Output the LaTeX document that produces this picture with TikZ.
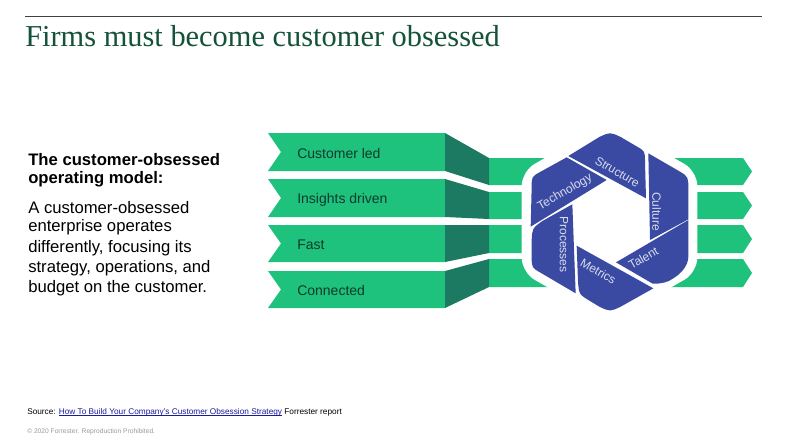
\documentclass[tikz,border=0pt]{standalone}
\usepackage{fontspec}
\setmainfont{Liberation Sans}
\newfontfamily\serifface{Liberation Serif}
\definecolor{grn}{HTML}{1FC27C}
\definecolor{dgrn}{HTML}{1D7A62}
\definecolor{blu}{HTML}{3A4AA3}
\definecolor{ttl}{HTML}{14523A}
\definecolor{linkb}{HTML}{1A1A9C}
\definecolor{lbl}{HTML}{0F3A2C}
\definecolor{bladetxt}{HTML}{D8DCF0}
\newsavebox{\linkbox}
\newcommand{\linkul}[1]{\sbox{\linkbox}{#1}\rlap{\usebox{\linkbox}}\rule[-0.8pt]{\wd\linkbox}{0.35pt}}
\tikzset{
  banner/.style={fill=grn,draw=none},
  fold/.style={fill=dgrn,draw=none},
  blade/.style={fill=blu,draw=none},
  bannertxt/.style={anchor=west,inner sep=0pt,text=lbl,font=\fontsize{10.5}{13}\selectfont},
  bladetext/.style={inner sep=0pt,text=bladetxt,font=\fontsize{9}{11}\selectfont},
  body/.style={anchor=west,inner sep=0pt,font=\fontsize{12.5}{15}\selectfont},
  bodyb/.style={anchor=west,inner sep=0pt,font=\fontsize{12.5}{15}\selectfont\bfseries},
}
\begin{document}
\begin{tikzpicture}[x=0.75pt,y=-0.75pt]
\useasboundingbox (0,0) rectangle (787,440);
\fill[white] (0,0) rectangle (787,440);
% title
\draw[line width=0.7pt,black!75] (25,16.5) -- (762,16.5);
\node[anchor=west,inner sep=0pt,text=ttl,font=\serifface\fontsize{22.8}{26}\selectfont] (title) at (25,36) {Firms must become customer obsessed};
% left text
\node[bodyb] (h1) at (28,159.5) {The customer-obsessed};
\node[bodyb] (h2) at (28,179.5) {operating model:};
\node[body] (b1) at (28,207.5) {A customer-obsessed};
\node[body] (b2) at (28,227.5) {enterprise operates};
\node[body] (b3) at (28,248) {differently, focusing its};
\node[body] (b4) at (28,268.5) {strategy, operations, and};
\node[body] (b5) at (28,288.5) {budget on the customer.};
% right bars
\fill[banner] (489,158) -- (743,158) -- (752,171.5) -- (743,185) -- (489,185) -- cycle;
\fill[banner] (489,192) -- (743,192) -- (752,205.5) -- (743,219) -- (489,219) -- cycle;
\fill[banner] (489,225) -- (743,225) -- (752,239) -- (743,253) -- (489,253) -- cycle;
\fill[banner] (489,259) -- (743,259) -- (752,273) -- (743,287) -- (489,287) -- cycle;
% left banners
\fill[banner] (268,133) -- (445,133) -- (445,171) -- (268,171) -- (281,152) -- cycle;
\fill[banner] (268,179) -- (445,179) -- (445,217) -- (268,217) -- (281,198) -- cycle;
\fill[banner] (268,225) -- (445,225) -- (445,262) -- (268,262) -- (281,243.5) -- cycle;
\fill[banner] (268,271) -- (445,271) -- (445,308) -- (268,308) -- (281,289.5) -- cycle;
% folds
\fill[fold] (445,133) -- (489,158) -- (489,185) -- (445,171) -- cycle;
\fill[fold] (445,179) -- (489,192) -- (489,219) -- (445,217) -- cycle;
\fill[fold] (445,225) -- (489,225) -- (489,253) -- (445,262) -- cycle;
\fill[fold] (445,271) -- (489,259) -- (489,287) -- (445,308) -- cycle;
\node[bannertxt] (t1) at (297,153) {Customer led};
\node[bannertxt] (t2) at (297,199.5) {Insights driven};
\node[bannertxt] (t3) at (297,245) {Fast};
\node[bannertxt] (t4) at (297,290) {Connected};
% hexagon
\begin{scope}[shift={(510,125)},x=0.25pt,y=-0.25pt]
\fill[white,rounded corners=11pt] (298,-12) -- (562,139) -- (562,442) -- (298,593) -- (35,442) -- (35,139) -- cycle;
\fill[blade] (175,93) -- (268,36) .. controls (300,21) .. (332,36) -- (378,63) .. controls (405,78) .. (405,112) -- (408,220) -- cycle;
\fill[blade] (415,85) -- (505,137) .. controls (535,155) .. (535,190) -- (535,283) -- (420,345) -- cycle;
\fill[blade] (318,412) -- (535,285) -- (535,395) .. controls (535,420) and (515,445) .. (490,460) .. controls (475,472) and (450,477) .. (428,476) -- cycle;
\fill[blade] (200,362) -- (430,490) -- (332,545) .. controls (300,560) .. (268,545) -- (240,528) .. controls (207,508) .. (204,470) -- cycle;
\fill[blade] (187,238) -- (197,505) -- (95,445) .. controls (65,428) .. (65,395) -- (65,345) .. controls (67,310) .. (97,288) -- cycle;
\fill[blade] (62,305) -- (65,185) .. controls (65,155) .. (92,140) -- (170,97) -- (290,165) -- cycle;
\node[bladetext,rotate=-30] (structure) at (322,140) {Structure};
\node[bladetext,rotate=-90] (culture) at (440,260) {Culture};
\node[bladetext,rotate=30] (talent) at (400,399) {Talent};
\node[bladetext,rotate=-30] (metrics) at (265,438) {Metrics};
\node[bladetext,rotate=-90] (processes) at (162,358) {Processes};
\node[bladetext,rotate=30] (technology) at (165,202) {Technology};
\end{scope}
% footer
\node[anchor=base west,inner sep=0pt,font=\fontsize{6.2}{8}\selectfont] (src) at (27,414) {Source: \textcolor{linkb}{\linkul{How To Build Your Company's Customer Obsession Strategy}} Forrester report};
\node[anchor=west,inner sep=0pt,text=black!40,font=\fontsize{5}{6}\selectfont] (copy) at (27,431.5) {© 2020 Forrester. Reproduction Prohibited.};
\end{tikzpicture}
\end{document}
